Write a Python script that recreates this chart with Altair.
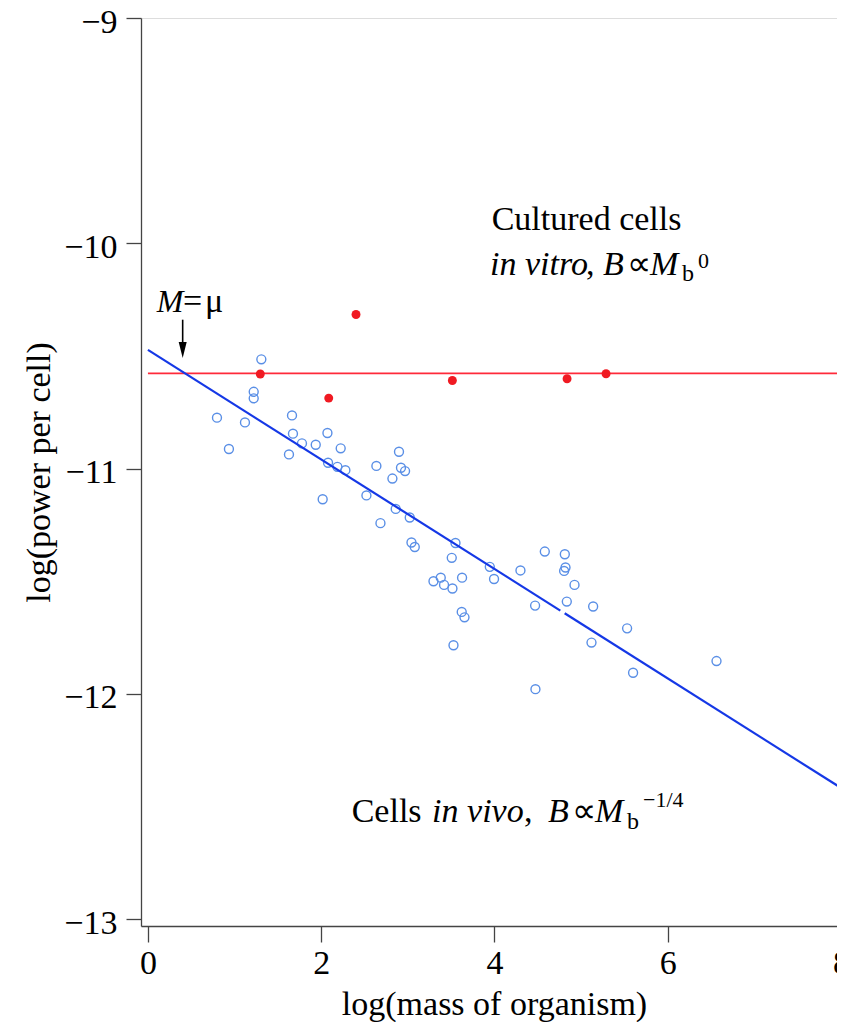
import altair as alt
import pandas as pd

# ---- data ----
# Cells in vivo (open blue circles)
vivo_x = [1.309, 1.221, 1.221, 0.797, 1.120, 0.935, 1.663, 1.674, 1.628, 1.778,
          1.937, 2.072, 2.225, 2.079, 2.187, 2.279, 2.017, 2.637, 2.898, 2.921,
          2.968, 2.822, 2.522, 2.860, 3.022, 2.684, 3.042, 3.080, 3.550, 3.507,
          3.946, 3.995, 4.300, 4.581, 4.812, 4.820, 4.804, 4.924, 4.835, 5.139,
          4.469, 5.531, 5.120, 5.600, 4.473, 3.296, 3.380, 3.418, 3.515, 3.626,
          3.622, 3.654, 3.527, 6.563]
vivo_y = [-10.515, -10.659, -10.688, -10.774, -10.795, -10.913, -10.764, -10.845, -10.937, -10.888,
          -10.894, -10.842, -10.910, -10.974, -10.992, -11.007, -11.136, -10.988, -10.925, -10.996,
          -11.011, -11.044, -11.119, -11.179, -11.217, -11.242, -11.328, -11.348, -11.330, -11.396,
          -11.436, -11.490, -11.452, -11.368, -11.380, -11.439, -11.454, -11.516, -11.590, -11.612,
          -11.608, -11.709, -11.772, -11.906, -11.979, -11.500, -11.484, -11.516, -11.532, -11.484,
          -11.636, -11.660, -11.784, -11.854]

# Cultured cells in vitro (filled red dots)
vitro_x = [1.297, 2.087, 2.402, 3.514, 4.838, 5.288]
vitro_y = [-10.580, -10.687, -10.316, -10.609, -10.601, -10.579]

# fitted lines
vitro_fit_x = [0.0, 7.97]
vitro_fit_y = [-10.577, -10.577]
vivo_fit_x = [0.0, 4.76, 4.81, 7.97]
vivo_fit_y = [-10.473, -11.630, -11.642, -12.410]
vivo_fit_seg = [1, 1, 2, 2]

x_ticks = [0, 2, 4, 6, 8]
y_ticks = [-9, -10, -11, -12, -13]

# ---- tables ----
vivo = pd.DataFrame({"x": vivo_x, "y": vivo_y})
vitro = pd.DataFrame({"x": vitro_x, "y": vitro_y})
vitro_fit = pd.DataFrame({"x": vitro_fit_x, "y": vitro_fit_y})
vivo_fit = pd.DataFrame({"x": vivo_fit_x, "y": vivo_fit_y, "seg": vivo_fit_seg})

FONT = "Liberation Serif"
XDOM = [-0.08, 8.0]
YDOM = [-13.03, -9.0]

xscale = alt.Scale(domain=XDOM, nice=False, zero=False)
yscale = alt.Scale(domain=YDOM, nice=False, zero=False)

x_axis = alt.Axis(values=x_ticks, format="d", grid=False, labelFlush=False, labelOverlap=False,
                  domainColor="#444", domainWidth=1.3, tickColor="#444", tickWidth=1.3,
                  tickSize=16, labelFont=FONT, labelFontSize=34, labelColor="black",
                  labelPadding=4, title="log(mass of organism)", titleFont=FONT,
                  titleFontSize=34, titleFontWeight="normal", titleColor="black",
                  titleX=353, titleY=88, titleAlign="center", titleBaseline="alphabetic")
y_axis = alt.Axis(values=y_ticks, format="d", grid=False, labelFlush=False, labelOverlap=False,
                  domainColor="#444", domainWidth=1.3, tickColor="#444", tickWidth=1.3,
                  tickSize=15, labelFont=FONT, labelFontSize=34, labelColor="black",
                  labelPadding=9, labelOffset=4, title="log(power per cell)", titleFont=FONT,
                  titleFontSize=34, titleFontWeight="normal", titleColor="black",
                  titleX=-102, titleY=454, titleAngle=270, titleAlign="center",
                  titleBaseline="middle")


def X(field="x"):
    return alt.X(f"{field}:Q", scale=xscale, axis=x_axis)


def Y(field="y"):
    return alt.Y(f"{field}:Q", scale=yscale, axis=y_axis)


pts_vivo = alt.Chart(vivo).mark_point(shape="circle", filled=False, size=80,
                                      strokeWidth=1.4, color="#5a8fe6", opacity=1).encode(
    x=X(), y=Y())

pts_vitro = alt.Chart(vitro).mark_circle(size=80, color="#f01a22", opacity=1).encode(
    x=X(), y=Y())

line_vitro = alt.Chart(vitro_fit).mark_line(color="#ff2a3a", strokeWidth=1.7).encode(
    x=X(), y=Y())

line_vivo = alt.Chart(vivo_fit).mark_line(color="#1538e6", strokeWidth=2.2).encode(
    x=X(), y=Y(), detail="seg:N")

# ---- annotations (positions in data units) ----
ann_regular = pd.DataFrame({
    "x": [3.968, 5.057, 5.530, 6.165, 6.350, 2.352, 4.341, 4.895, 5.530, 5.715, 0.405, 0.659],
    "y": [-9.940, -10.141, -10.141, -10.167, -10.109, -12.567, -12.567, -12.567, -12.599, -12.504,
          -10.303, -10.303],
    "t": ["Cultured cells", ",", "\u221d", "b", "0", "Cells", ",", "\u221d", "b", "\u22121/4",
          "=", "\u03bc"],
    "fs": [34, 34, 34, 24, 22, 34, 34, 34, 24, 22, 34, 34],
})
ann_italic = pd.DataFrame({
    "x": [3.949, 5.253, 5.795, 3.280, 4.618, 5.160, 0.101],
    "y": [-10.141, -10.141, -10.141, -12.567, -12.567, -12.567, -10.303],
    "t": ["in vitro", "B", "M", "in vivo", "B", "M", "M"],
    "fs": [34, 34, 34, 34, 34, 34, 32],
})

txt_regular = alt.Chart(ann_regular).mark_text(font=FONT, align="left", baseline="alphabetic",
                                               color="black").encode(
    x=X(), y=Y(), text="t:N", size=alt.Size("fs:Q", scale=None, legend=None))
txt_italic = alt.Chart(ann_italic).mark_text(font=FONT, fontStyle="italic", align="left",
                                             baseline="alphabetic", color="black").encode(
    x=X(), y=Y(), text="t:N", size=alt.Size("fs:Q", scale=None, legend=None))

# arrow M = mu
arrow_shaft = pd.DataFrame({"x": [0.401], "y": [-10.339], "y2": [-10.460]})
arrow_head = pd.DataFrame({"x": [0.401], "y": [-10.473]})
shaft = alt.Chart(arrow_shaft).mark_rule(color="black", strokeWidth=1.6).encode(
    x=X(), y=Y(), y2="y2:Q")
head = alt.Chart(arrow_head).mark_point(shape="M-0.5,-1L0.5,-1L0,1Z", size=256, filled=True,
                                        color="black", opacity=1).encode(x=X(), y=Y())

chart = alt.layer(pts_vivo, line_vitro, line_vivo, pts_vitro, txt_regular, txt_italic,
                  shaft, head).properties(
    width=700, height=908,
    autosize=alt.AutoSizeParams(type="none"),
    padding={"left": 133, "top": 10, "right": -4, "bottom": 96},
).configure_view(strokeWidth=0, stroke="transparent").configure(background="white")

chart.save("out.html", embed_options={"renderer": "svg", "actions": False})
